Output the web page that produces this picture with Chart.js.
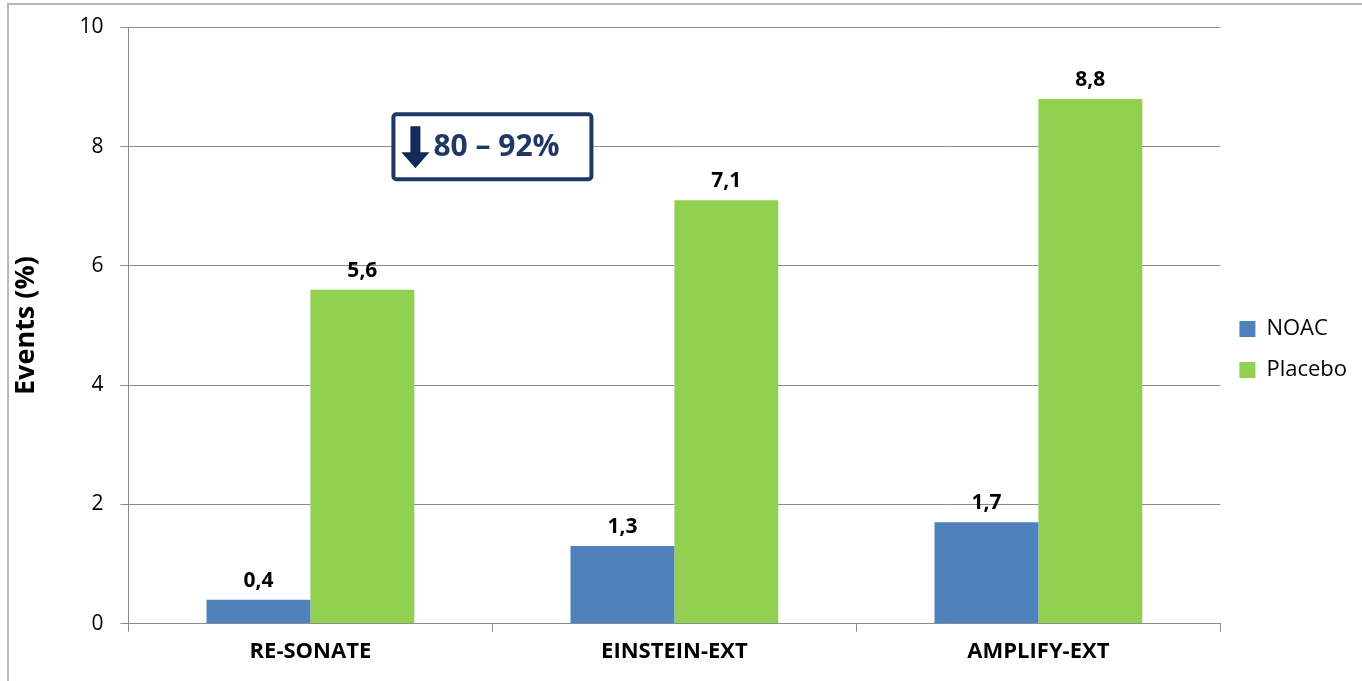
<!DOCTYPE html>
<html>
<head>
<meta charset="utf-8">
<script src="https://cdn.jsdelivr.net/npm/chart.js@4/dist/chart.umd.min.js"></script>
<style>
  html, body { margin: 0; padding: 0; background: #fff; }
  #wrap { position: relative; width: 1362px; height: 681px; overflow: hidden; }
  #frame {
    position: absolute; left: 7px; top: 3px; width: 1400px; height: 700px;
    border-left: 2px solid #b7b7b7; border-top: 2px solid #b7b7b7;
  }
  #chart { position: absolute; left: 0; top: 0; }
</style>
</head>
<body>
<div id="wrap">
  <div id="frame"></div>
  <canvas id="chart" width="1362" height="681"></canvas>
</div>
<script>
// chart data
const trials = ["RE-SONATE", "EINSTEIN-EXT", "AMPLIFY-EXT"];
const noacEvents = [0.4, 1.3, 1.7];
const placeboEvents = [5.6, 7.1, 8.8];
const yTicks = [0, 2, 4, 6, 8, 10];
const reductionText = "80 \u2013 92%";

const color = {
  noac: "#4f81bd",
  placebo: "#92d050",
  grid: "#8c8c8c",
  navy: "#1f3864"
};

const fontFamily = "'Open Sans', Lato, sans-serif";

// value labels above every bar, written with comma decimals
const valueLabels = {
  id: "valueLabels",
  afterDatasetsDraw(chart) {
    const ctx = chart.ctx;
    ctx.save();
    ctx.font = "bold 21px " + fontFamily;
    ctx.fillStyle = "#000";
    ctx.textAlign = "center";
    ctx.textBaseline = "alphabetic";
    chart.data.datasets.forEach((ds, i) => {
      chart.getDatasetMeta(i).data.forEach((bar, j) => {
        const txt = ds.data[j].toFixed(1).replace(".", ",");
        ctx.fillText(txt, bar.x, bar.y - 13);
      });
    });
    ctx.restore();
  }
};

// the "down 80-92%" box, centred between the first two groups at y = 8
const reductionBox = {
  id: "reductionBox",
  afterDraw(chart) {
    const ctx = chart.ctx;
    const xs = chart.scales.x;
    const ys = chart.scales.y;
    const cx = (xs.getPixelForValue(0) + xs.getPixelForValue(1)) / 2;
    const cy = ys.getPixelForValue(8);
    const w = 198, h = 65;
    const left = cx - w / 2, top = cy - h / 2;
    ctx.save();
    ctx.fillStyle = "#fff";
    ctx.strokeStyle = color.navy;
    ctx.lineWidth = 4;
    ctx.beginPath();
    ctx.roundRect(left, top, w, h, 3);
    ctx.fill();
    ctx.stroke();
    // arrow
    const ax = left + 22;
    const at = top + 12;
    ctx.fillStyle = "#14285a";
    ctx.beginPath();
    ctx.moveTo(ax - 5, at);
    ctx.lineTo(ax + 5, at);
    ctx.lineTo(ax + 5, at + 26);
    ctx.lineTo(ax + 14, at + 26);
    ctx.lineTo(ax, at + 42);
    ctx.lineTo(ax - 14, at + 26);
    ctx.lineTo(ax - 5, at + 26);
    ctx.closePath();
    ctx.fill();
    // text
    ctx.fillStyle = color.navy;
    ctx.font = "bold 30px " + fontFamily;
    ctx.textAlign = "left";
    ctx.textBaseline = "middle";
    ctx.fillText(reductionText, left + 40, cy + 1);
    ctx.restore();
  }
};

new Chart(document.getElementById("chart").getContext("2d"), {
  type: "bar",
  data: {
    labels: trials,
    datasets: [
      { label: "NOAC", data: noacEvents, backgroundColor: color.noac },
      { label: "Placebo", data: placeboEvents, backgroundColor: color.placebo }
    ]
  },
  options: {
    responsive: false,
    animation: false,
    devicePixelRatio: 1,
    layout: { padding: { top: 27, left: 10, right: 5, bottom: 9 } },
    datasets: {
      bar: { categoryPercentage: 0.571, barPercentage: 1.0 }
    },
    plugins: {
      tooltip: { enabled: false },
      legend: {
        position: "right",
        labels: {
          boxWidth: 16,
          boxHeight: 16,
          padding: 19,
          color: "#000",
          font: { family: fontFamily, size: 22 }
        }
      }
    },
    scales: {
      x: {
        grid: {
          display: true,
          drawOnChartArea: false,
          drawTicks: true,
          tickLength: 8,
          color: color.grid,
          offset: true
        },
        border: { color: color.grid, width: 1 },
        ticks: {
          color: "#000",
          padding: 7,
          font: { family: fontFamily, size: 22, weight: "bold" }
        }
      },
      y: {
        min: 0,
        max: 10,
        afterBuildTicks(scale) {
          scale.ticks = yTicks.map(v => ({ value: v }));
        },
        grid: {
          color: color.grid,
          tickLength: 8
        },
        border: { color: color.grid, width: 1 },
        ticks: {
          color: "#000",
          padding: 17,
          font: { family: fontFamily, size: 21, lineHeight: 1 }
        },
        title: {
          display: true,
          text: "Events (%)",
          color: "#000",
          padding: { top: 0, bottom: 20 },
          font: { family: fontFamily, size: 27, weight: "bold" }
        }
      }
    }
  },
  plugins: [valueLabels, reductionBox]
});
</script>
</body>
</html>
